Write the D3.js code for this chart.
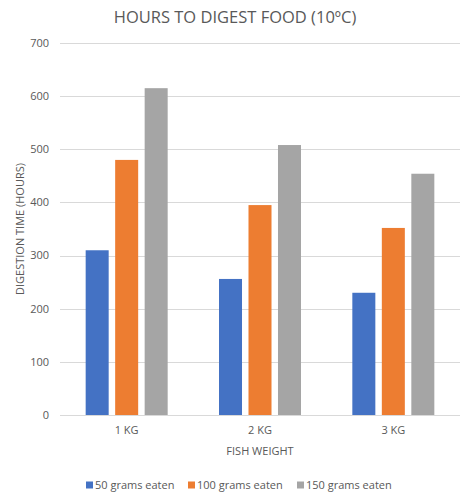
<!DOCTYPE html>
<html>
<head>
<meta charset="utf-8">
<script src="https://cdn.jsdelivr.net/npm/d3@7"></script>
<style>
  body { margin: 0; background: #fff; }
  svg text { font-family: "Open Sans", "Liberation Sans", sans-serif; fill: #595959; }
</style>
</head>
<body>
<svg id="chart" width="470" height="499"></svg>
<script>
// data
const categories = ['1 KG', '2 KG', '3 KG'];
const seriesNames = ['50 grams eaten', '100 grams eaten', '150 grams eaten'];
const grams50 = [310, 256, 230];
const grams100 = [480, 395, 352];
const grams150 = [615, 508, 454];
const yTicks = [0, 100, 200, 300, 400, 500, 600, 700];
const colors = ['#4472c4', '#ed7d31', '#a5a5a5'];

const seriesValues = [grams50, grams100, grams150];

const svg = d3.select('#chart');
const W = 470, H = 499;
const plot = { left: 60, right: 460, top: 43, bottom: 415 };

const x0 = d3.scaleBand()
  .domain(categories)
  .range([plot.left, plot.right])
  .paddingInner(0.385)
  .paddingOuter(0.1925);

const x1 = d3.scaleBand()
  .domain(seriesNames)
  .range([0, x0.bandwidth()])
  .paddingInner(0.22)
  .paddingOuter(0);

const y = d3.scaleLinear().domain([0, 700]).range([plot.bottom, plot.top]);

// gridlines
svg.append('g')
  .selectAll('line')
  .data(yTicks)
  .join('line')
  .attr('x1', plot.left)
  .attr('x2', plot.right)
  .attr('y1', d => Math.round(y(d)) + 0.5)
  .attr('y2', d => Math.round(y(d)) + 0.5)
  .attr('stroke', '#d9d9d9')
  .attr('stroke-width', 1);

// y tick labels
svg.append('g')
  .selectAll('text')
  .data(yTicks)
  .join('text')
  .attr('x', 49)
  .attr('y', d => y(d))
  .attr('dy', '0.35em')
  .attr('text-anchor', 'end')
  .style('font-size', '11px')
  .text(d => d);

// bars
const groups = svg.append('g')
  .selectAll('g')
  .data(categories)
  .join('g')
  .attr('transform', d => `translate(${x0(d)},0)`);

groups.selectAll('rect')
  .data((c, i) => seriesNames.map((s, k) => ({ s, k, v: seriesValues[k][i] })))
  .join('rect')
  .attr('x', d => x1(d.s))
  .attr('width', x1.bandwidth())
  .attr('y', d => y(d.v))
  .attr('height', d => y(0) - y(d.v))
  .attr('fill', d => colors[d.k]);

// x axis line on top of bars
svg.append('line')
  .attr('x1', plot.left).attr('x2', plot.right)
  .attr('y1', Math.round(y(0)) + 0.5).attr('y2', Math.round(y(0)) + 0.5)
  .attr('stroke', '#d9d9d9');

// category labels
svg.append('g')
  .selectAll('text')
  .data(categories)
  .join('text')
  .attr('x', d => x0(d) + x0.bandwidth() / 2)
  .attr('y', 434)
  .attr('text-anchor', 'middle')
  .style('font-size', '11px')
  .text(d => d);

// title
svg.append('text')
  .attr('x', 235)
  .attr('y', 23)
  .attr('text-anchor', 'middle')
  .style('font-size', '16.5px')
  .text('HOURS TO DIGEST FOOD (10ºC)');

// axis titles
svg.append('text')
  .attr('x', 260)
  .attr('y', 455)
  .attr('text-anchor', 'middle')
  .style('font-size', '11px')
  .text('FISH WEIGHT');

svg.append('text')
  .attr('transform', `translate(24,${(plot.top + plot.bottom) / 2}) rotate(-90)`)
  .attr('text-anchor', 'middle')
  .style('font-size', '11px')
  .text('DIGESTION TIME (HOURS)');

// legend
const legendX = [86, 188, 297];
const legend = svg.append('g')
  .selectAll('g')
  .data(seriesNames)
  .join('g')
  .attr('transform', (d, i) => `translate(${legendX[i]},485)`);

legend.append('rect')
  .attr('x', 0).attr('y', -3.5)
  .attr('width', 7).attr('height', 7)
  .attr('fill', (d, i) => colors[i]);

legend.append('text')
  .attr('x', 9)
  .attr('y', 0)
  .attr('dy', '0.35em')
  .style('font-size', '11px')
  .text(d => d);
</script>
</body>
</html>
